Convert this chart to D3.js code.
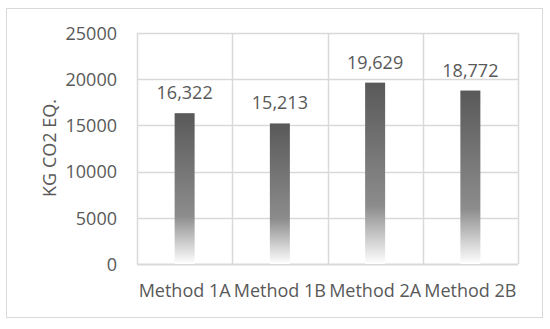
<!DOCTYPE html>
<html>
<head>
<meta charset="utf-8">
<script src="https://cdn.jsdelivr.net/npm/d3@7"></script>
<style>
  body { margin: 0; background: #fff; }
  text { font-family: "Open Sans", "Noto Sans", sans-serif; fill: #595959; }
</style>
</head>
<body>
<div id="chart"></div>
<script>
// datos del gráfico
const metodos = ["Method 1A", "Method 1B", "Method 2A", "Method 2B"];
const emisiones = [16322, 15213, 19629, 18772];
const ticksY = [0, 5000, 10000, 15000, 20000, 25000];

const width = 550, height = 329;
const mLeft = 137, mRight = 518, mTop = 33, mBottom = 264;
const fs = "18px";

const svg = d3.select("#chart").append("svg")
    .attr("width", width)
    .attr("height", height);

// Borde exterior
svg.append("rect")
    .attr("x", 6.5).attr("y", 8.5)
    .attr("width", 536).attr("height", 309)
    .attr("fill", "#fff")
    .attr("stroke", "#d9d9d9");

const x = d3.scaleBand().domain(metodos).range([mLeft, mRight]);
const y = d3.scaleLinear().domain([0, 25000]).range([mBottom, mTop]);

// Degradado de las barras
const grad = svg.append("defs").append("linearGradient")
    .attr("id", "grad").attr("x1", 0).attr("y1", 0).attr("x2", 0).attr("y2", 1);
grad.append("stop").attr("offset", "0%").attr("stop-color", "#595959");
grad.append("stop").attr("offset", "68%").attr("stop-color", "#8c8c8c");
grad.append("stop").attr("offset", "100%").attr("stop-color", "#ffffff");

// Rejilla horizontal
svg.append("g")
    .selectAll("line")
    .data(ticksY)
    .enter().append("line")
    .attr("x1", mLeft).attr("x2", mRight)
    .attr("y1", d => Math.round(y(d)) + 0.5)
    .attr("y2", d => Math.round(y(d)) + 0.5)
    .attr("stroke", "#d9d9d9")
    .attr("stroke-width", d => d === 0 ? 2 : 1.5);

// Rejilla vertical (límites de categoría)
const bordes = metodos.map(m => x(m)).concat([mRight]);
svg.append("g")
    .selectAll("line")
    .data(bordes)
    .enter().append("line")
    .attr("x1", d => Math.round(d) + 0.5).attr("x2", d => Math.round(d) + 0.5)
    .attr("y1", mTop).attr("y2", mBottom)
    .attr("stroke", "#d9d9d9")
    .attr("stroke-width", 1.5);

// Eje Y
const ejeY = svg.append("g")
    .attr("transform", `translate(${mLeft - 20},0)`)
    .call(d3.axisLeft(y).tickValues(ticksY).tickFormat(d3.format("d")).tickSize(0).tickPadding(0));
ejeY.select(".domain").remove();
ejeY.selectAll("text")
    .attr("font-size", fs)
    .attr("dy", "0.35em")
    .style("font-family", "'Open Sans', sans-serif")
    .attr("fill", "#595959");

// Eje X
const ejeX = svg.append("g")
    .attr("transform", `translate(0,${mBottom})`)
    .call(d3.axisBottom(x).tickSize(0).tickPadding(20));
ejeX.select(".domain").remove();
ejeX.selectAll("text")
    .attr("font-size", fs)
    .style("font-family", "'Open Sans', sans-serif")
    .attr("fill", "#595959");

// Barras
const barW = 20;
svg.selectAll("rect.barra")
    .data(emisiones)
    .enter().append("rect")
    .attr("class", "barra")
    .attr("x", (d, i) => x(metodos[i]) + x.bandwidth() / 2 - barW / 2)
    .attr("y", d => y(d))
    .attr("width", barW)
    .attr("height", d => y(0) - y(d))
    .attr("fill", "url(#grad)");

// Etiquetas de valores
svg.selectAll("text.valor")
    .data(emisiones)
    .enter().append("text")
    .attr("class", "valor")
    .attr("x", (d, i) => x(metodos[i]) + x.bandwidth() / 2)
    .attr("y", d => y(d) - 14)
    .attr("text-anchor", "middle")
    .attr("font-size", fs)
    .text(d => d3.format(",")(d));

// Título eje Y
svg.append("text")
    .attr("transform", "translate(56,148) rotate(-90)")
    .attr("text-anchor", "middle")
    .attr("font-size", fs)
    .text("KG CO2 EQ.");
</script>
</body>
</html>
